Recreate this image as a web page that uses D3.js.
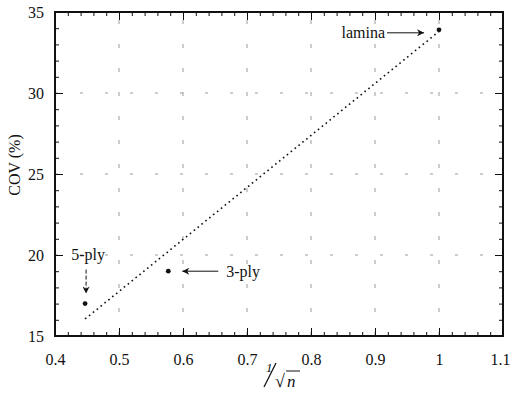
<!DOCTYPE html>
<html>
<head>
<meta charset="utf-8">
<script src="https://cdn.jsdelivr.net/npm/d3@7"></script>
<style>
  body { margin: 0; background: #fff; }
</style>
</head>
<body>
<script>
// data
const plyLabels = ['lamina', '3-ply', '5-ply'];
const invSqrtN = [1.0, 0.577, 0.447];
const cov = [33.9, 19.0, 17.0];
const fitX = [0.447, 1.0];
const fitY = [16.05, 33.8];
const xTicks = [0.4, 0.5, 0.6, 0.7, 0.8, 0.9, 1.0, 1.1];
const xTickLabels = ['0.4', '0.5', '0.6', '0.7', '0.8', '0.9', '1', '1.1'];
const yTicks = [15, 20, 25, 30, 35];

const width = 511, height = 398;
const m = { left: 55, right: 8, top: 12, bottom: 62 };

const svg = d3.select('body').append('svg')
  .attr('width', width)
  .attr('height', height);

const x = d3.scaleLinear().domain([0.4, 1.1]).range([m.left, width - m.right]);
const y = d3.scaleLinear().domain([15, 35]).range([height - m.bottom, m.top]);

const defs = svg.append('defs');
defs.append('marker')
  .attr('id', 'head')
  .attr('viewBox', '0 0 10 10')
  .attr('refX', 10).attr('refY', 5)
  .attr('markerWidth', 9).attr('markerHeight', 7)
  .attr('markerUnits', 'userSpaceOnUse')
  .attr('orient', 'auto')
  .append('path').attr('d', 'M0,0 L10,5 L0,10 L3,5 Z').attr('fill', '#111');

// sparse grey dashed grid
const grid = svg.append('g').attr('stroke', '#9a9a9a').attr('stroke-width', 1);
grid.selectAll('.vg').data(xTicks.slice(1, -1)).enter().append('line')
  .attr('stroke-dasharray', '4,20')
  .attr('x1', d => x(d)).attr('x2', d => x(d))
  .attr('y1', y(15)).attr('y2', y(35));
grid.selectAll('.hg').data(yTicks.slice(1, -1)).enter().append('line')
  .attr('stroke-dasharray', '3,22')
  .attr('y1', d => y(d)).attr('y2', d => y(d))
  .attr('x1', x(0.4)).attr('x2', x(1.1));

// axes, ticks pointing inward on all four sides
const xMinor = d3.range(0, 36).map(i => 0.4 + i * 0.02);
const yMinor = d3.range(15, 36);
const ph = height - m.bottom - m.top, pw = width - m.left - m.right;

function styleAxis(g) {
  g.select('.domain').remove();
  g.selectAll('line').attr('stroke', '#111').attr('stroke-width', 1);
  g.selectAll('text').attr('fill', '#111').style('font-size', '16px');
}

svg.append('g').attr('transform', `translate(0,${y(15)})`)
  .call(d3.axisBottom(x).tickValues(xMinor).tickSizeInner(-4).tickSizeOuter(0).tickFormat(''))
  .call(styleAxis);
const xb = svg.append('g').attr('transform', `translate(0,${y(15)})`)
  .call(d3.axisBottom(x).tickValues(xTicks).tickSizeInner(-8).tickSizeOuter(0).tickPadding(18)
    .tickFormat((d, i) => xTickLabels[i]))
  .call(styleAxis);
// last label sits against the window edge
xb.selectAll('text').filter(d => d > 1.05).attr('dx', -3);

svg.append('g').attr('transform', `translate(0,${y(35)})`)
  .call(d3.axisTop(x).tickValues(xMinor).tickSizeInner(-4).tickSizeOuter(0).tickFormat(''))
  .call(styleAxis);
svg.append('g').attr('transform', `translate(0,${y(35)})`)
  .call(d3.axisTop(x).tickValues(xTicks).tickSizeInner(-8).tickSizeOuter(0).tickFormat(''))
  .call(styleAxis);

svg.append('g').attr('transform', `translate(${x(0.4)},0)`)
  .call(d3.axisLeft(y).tickValues(yMinor).tickSizeInner(-4).tickSizeOuter(0).tickFormat(''))
  .call(styleAxis);
svg.append('g').attr('transform', `translate(${x(0.4)},0)`)
  .call(d3.axisLeft(y).tickValues(yTicks).tickSizeInner(-8).tickSizeOuter(0).tickPadding(11).tickFormat(d3.format('d')))
  .call(styleAxis);
svg.append('g').attr('transform', `translate(${x(1.1)},0)`)
  .call(d3.axisRight(y).tickValues(yMinor).tickSizeInner(-4).tickSizeOuter(0).tickFormat(''))
  .call(styleAxis);
svg.append('g').attr('transform', `translate(${x(1.1)},0)`)
  .call(d3.axisRight(y).tickValues(yTicks).tickSizeInner(-8).tickSizeOuter(0).tickFormat(''))
  .call(styleAxis);

// frame
svg.append('rect')
  .attr('x', x(0.4)).attr('y', y(35))
  .attr('width', pw).attr('height', ph)
  .attr('fill', 'none').attr('stroke', '#111').attr('stroke-width', 2);

// fitted line
svg.append('path')
  .datum(d3.zip(fitX, fitY))
  .attr('fill', 'none')
  .attr('stroke', '#111')
  .attr('stroke-width', 1.6)
  .attr('stroke-dasharray', '1.6,3.4')
  .attr('d', d3.line().x(d => x(d[0])).y(d => y(d[1])));

// points
svg.selectAll('.pt').data(invSqrtN).enter().append('circle')
  .attr('cx', d => x(d)).attr('cy', (d, i) => y(cov[i]))
  .attr('r', 2.4).attr('fill', '#111');

// annotations
const ann = svg.append('g').style('font-size', '16px').attr('fill', '#111');
const lx = x(invSqrtN[0]), ly = y(cov[0]);
ann.append('text').attr('x', lx - 54).attr('y', ly + 8).attr('text-anchor', 'end').text(plyLabels[0]);
ann.append('line').attr('x1', lx - 52).attr('y1', ly + 3).attr('x2', lx - 15).attr('y2', ly + 3)
  .attr('stroke', '#111').attr('stroke-width', 1).attr('marker-end', 'url(#head)');

const tx = x(invSqrtN[1]), ty = y(cov[1]);
ann.append('text').attr('x', tx + 58).attr('y', ty + 6).text(plyLabels[1]);
ann.append('line').attr('x1', tx + 50).attr('y1', ty).attr('x2', tx + 14).attr('y2', ty)
  .attr('stroke', '#111').attr('stroke-width', 1).attr('marker-end', 'url(#head)');

const fx = x(invSqrtN[2]), fy = y(cov[2]);
ann.append('text').attr('x', fx + 3).attr('y', fy - 44).attr('text-anchor', 'middle').text(plyLabels[2]);
ann.append('line').attr('x1', fx + 1).attr('y1', fy - 34).attr('x2', fx + 1).attr('y2', fy - 10)
  .attr('stroke', '#111').attr('stroke-width', 1).attr('stroke-dasharray', '4,2').attr('marker-end', 'url(#head)');

// axis titles
svg.append('text')
  .attr('transform', `translate(20,${(y(15) + y(35)) / 2 - 9}) rotate(-90)`)
  .attr('text-anchor', 'middle')
  .attr('fill', '#111')
  .style('font-size', '16px')
  .text('COV (%)');

const xt = svg.append('g').attr('transform', `translate(${(x(0.4) + x(1.1)) / 2},0)`).attr('fill', '#111');
xt.append('text').attr('x', -13).attr('y', 372).style('font-size', '13px').style('font-style', 'italic').text('1');
xt.append('line').attr('x1', -15).attr('y1', 387).attr('x2', -3).attr('y2', 363).attr('stroke', '#111').attr('stroke-width', 1.3);
xt.append('text').attr('x', -4).attr('y', 387).style('font-size', '18px').text('\u221A');
xt.append('line').attr('x1', 7).attr('y1', 371).attr('x2', 21).attr('y2', 371).attr('stroke', '#111').attr('stroke-width', 1);
xt.append('text').attr('x', 8).attr('y', 387).style('font-size', '17px').style('font-style', 'italic').text('n');

// every text in a Times-like serif
svg.selectAll('text').style('font-family', 'Liberation Serif');
</script>
</body>
</html>
